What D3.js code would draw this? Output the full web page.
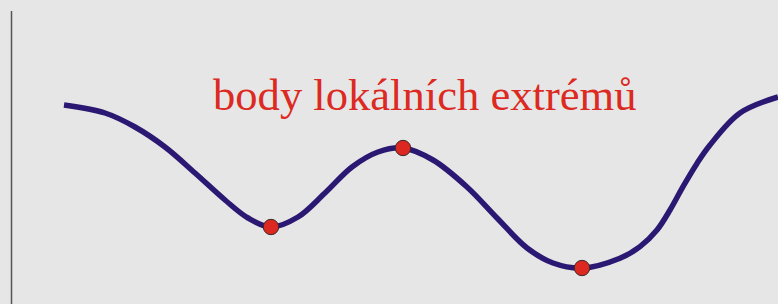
<!doctype html>
<html>
<head>
    <meta charset="utf-8">
    <style>
        body { margin: 0; background: #e6e6e6; }
        svg { display: block; background: #e6e6e6; }
        .curve { fill: none; stroke: #2a1872; stroke-width: 5.5; }
        .extreme { fill: #dc2820; stroke: #3a2a2a; stroke-width: 1; }
        .label { fill: #dc2a22; font-family: "Liberation Serif", "Times New Roman", serif; }
    </style>
    <script src="https://d3js.org/d3.v7.min.js"></script>
</head>
<body>
<svg width="778" height="304"></svg>
<script>
// points (x, y in chart units)
var curveX = [0, 0.41, 0.71, 1.01, 1.31, 1.61, 1.84, 2.07, 2.34, 2.61, 2.88, 3.14, 3.39, 3.69, 4.03, 4.33, 4.63, 4.89, 5.18, 5.56, 5.76, 5.93, 6.06, 6.19, 6.33, 6.46, 6.76, 7.14];
var curveY = [2.0, 1.8, 1.45, 0.95, 0.3, -0.375, -0.825, -1.05, -0.8, -0.2, 0.45, 0.825, 0.925, 0.625, -0.05, -0.825, -1.575, -1.95, -2.075, -1.83, -1.54, -1.125, -0.625, -0.04, 0.54, 1.0, 1.8, 2.2];

// local extremes
var extremeX = [2.07, 3.39, 5.18];
var extremeY = [-1.05, 0.925, -2.075];

var labelText = "body lokálních extrémů";

var svg = d3.select("svg");

var xScale = d3.scaleLinear().domain([0, 7.14]).range([64, 778]),
    yScale = d3.scaleLinear().domain([-3, 3]).range([305, 65]);

// left axis line
svg.append("line")
   .attr("x1", 11.5).attr("x2", 11.5)
   .attr("y1", 11).attr("y2", 304)
   .attr("stroke", "#555")
   .attr("stroke-width", 1.5);

var pts = curveX.map(function(x, i) { return [x, curveY[i]]; });

var line = d3.line()
    .x(function(d) { return xScale(d[0]); })
    .y(function(d) { return yScale(d[1]); })
    .curve(d3.curveCatmullRom.alpha(0.5));

svg.append("path")
   .datum(pts)
   .attr("class", "curve")
   .attr("d", line);

svg.selectAll(".extreme")
   .data(extremeX)
   .enter().append("circle")
   .attr("class", "extreme")
   .attr("cx", function(d) { return xScale(d); })
   .attr("cy", function(d, i) { return yScale(extremeY[i]); })
   .attr("r", 7.7);

svg.append("text")
   .attr("class", "label")
   .attr("x", 213)
   .attr("y", 110)
   .attr("font-size", 44.6)
   .text(labelText);
</script>
</body>
</html>
